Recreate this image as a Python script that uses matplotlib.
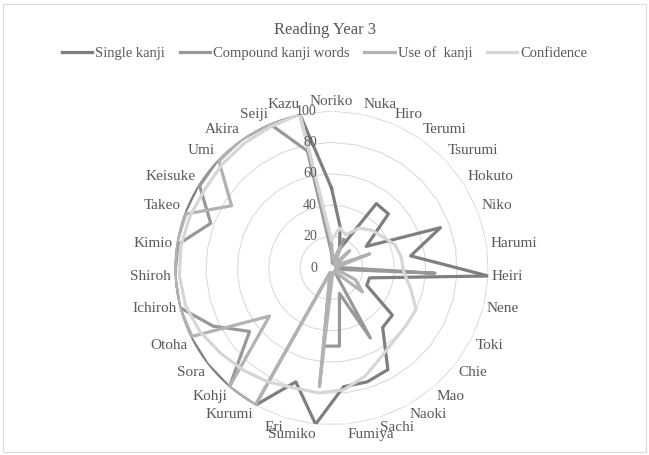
import matplotlib.pyplot as plt
import numpy as np
from matplotlib.transforms import offset_copy
from matplotlib.lines import Line2D

plt.rcParams['font.family'] = ['Liberation Serif', 'DejaVu Serif']

# data
names = ['Noriko', 'Nuka', 'Hiro', 'Terumi', 'Tsurumi', 'Hokuto', 'Niko', 'Harumi',
         'Heiri', 'Nene', 'Toki', 'Chie', 'Mao', 'Naoki', 'Sachi', 'Fumiya', 'Sumiko',
         'Eri', 'Kurumi', 'Kohji', 'Sora', 'Otoha', 'Ichiroh', 'Shiroh', 'Kimio',
         'Takeo', 'Keisuke', 'Umi', 'Akira', 'Seiji', 'Kazu']
single = [51, 27, 13, 50, 50, 26, 74, 51, 100, 25, 25, 49, 50, 74, 76, 76, 100,
          76, 100, 100, 100, 100, 100, 100, 100, 100, 100, 100, 100, 100, 100]
compound = [10, 3, 20, 3, 3, 3, 3, 3, 66, 3, 3, 3, 3, 51, 17, 50, 50,
            3, 100, 100, 66, 84, 100, 100, 99, 82, 99, 100, 100, 100, 76]
use = [15, 5, 15, 3, 16, 3, 26, 3, 3, 3, 17, 25, 3, 3, 3, 5, 76,
       3, 100, 100, 50, 99, 100, 100, 100, 99, 75, 99, 100, 100, 100]
confidence = [18, 26, 23, 31, 35, 38, 43, 45, 46, 52, 60, 60, 61, 65, 72, 78, 80,
              80, 83, 86, 89, 93, 96, 97, 97, 96, 95, 96, 97, 98, 100]
series = ['Single kanji', 'Compound kanji words', 'Use of  kanji', 'Confidence']
colors = ['#7f7f7f', '#989898', '#b2b2b2', '#d6d6d6']
txt = '#595959'

n = len(names)
ang = np.linspace(0, 2 * np.pi, n, endpoint=False)
ang_c = np.append(ang, ang[0])

fig = plt.figure(figsize=(6.49, 4.55), dpi=100)
ax = fig.add_axes([0.2689, 0.0659, 0.4838, 0.6901], projection='polar')
ax.set_theta_zero_location('N')
ax.set_theta_direction(-1)
ax.set_ylim(0, 100)
ax.axis('off')

for lev in [20, 40, 60, 80, 100]:
    ax.plot(ang_c, [lev] * (n + 1), color='#d9d9d9', lw=0.75, zorder=1)

for vals, col in zip([single, compound, use, confidence], colors):
    v = np.append(vals, vals[0])
    ax.plot(ang_c, v, color=col, lw=2.3, solid_joinstyle='round', zorder=3)

for lev in [0, 20, 40, 60, 80, 100]:
    tr = offset_copy(ax.transData, fig=fig, x=-10.5, y=0, units='points')
    ax.text(0, lev, str(lev), transform=tr, ha='right', va='center',
            fontsize=10, color=txt, zorder=5)

for a, nm in zip(ang, names):
    s, c = np.sin(a), np.cos(a)
    ha = 'left' if s > 0.05 else ('right' if s < -0.05 else 'center')
    va = 'bottom' if c > 0.3 else ('top' if c < -0.3 else 'center')
    tr = offset_copy(ax.transData, fig=fig, x=2.5 * s, y=2.5 * c, units='points')
    ax.text(a, 100, nm, transform=tr, ha=ha, va=va, fontsize=11, color=txt)

fig.text(0.5, 1 - 30 / 455, 'Reading Year 3', ha='center', va='center',
         fontsize=12, color=txt)

handles = [Line2D([], [], color=c, lw=2.3) for c in colors]
fig.legend(handles, series, loc='center', bbox_to_anchor=(0.5, 1 - 53 / 455),
           ncol=4, frameon=False, fontsize=10.5, handlelength=2.1,
           handletextpad=0.2, columnspacing=1.0, labelcolor=txt)

fig.add_artist(plt.Rectangle((0.004, 0.006), 0.992, 0.986, transform=fig.transFigure,
                             fill=False, edgecolor='#d9d9d9', lw=0.75))

fig.savefig('out.png', dpi=100)
